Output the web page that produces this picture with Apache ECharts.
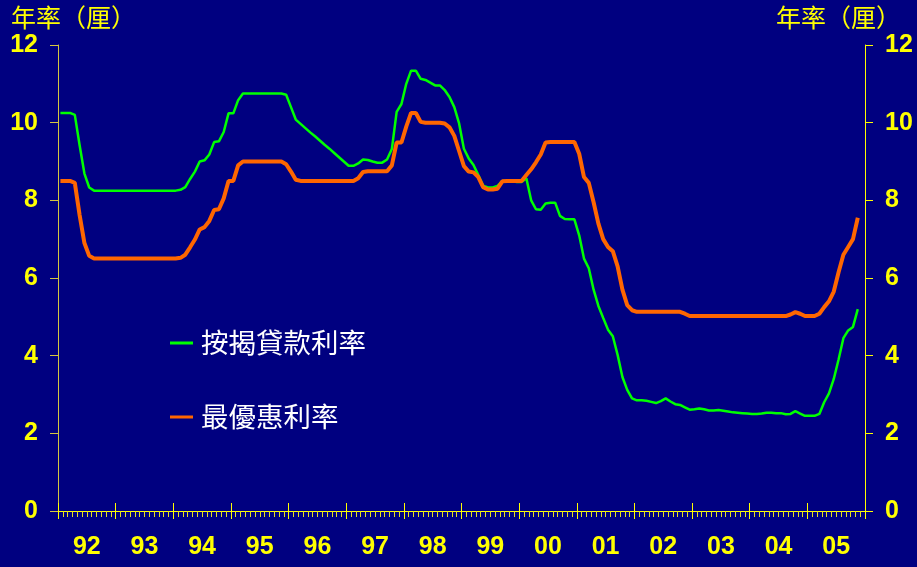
<!DOCTYPE html>
<html><head><meta charset="utf-8">
<script src="https://cdn.jsdelivr.net/npm/echarts@6/dist/echarts.min.js"></script>
<style>html,body{margin:0;padding:0;background:#000080;}#c{width:917px;height:567px;}</style>
</head><body><div id="c"></div>
<script>
// ---- data ----
const years = ['92','93','94','95','96','97','98','99','00','01','02','03','04','05'];
const axisTitle = '年率（厘）';
const seriesNames = ['按揭貸款利率', '最優惠利率'];
const yMin = 0, yMax = 12, yStep = 2;
// monthly, Jan 1992 - Nov 2005
const mortgageRate = [
  10.25, 10.25, 10.25, 10.2, 9.42, 8.69, 8.33, 8.25, 8.25, 8.25, 8.25, 8.25,
  8.25, 8.25, 8.25, 8.25, 8.25, 8.25, 8.25, 8.25, 8.25, 8.25, 8.25, 8.25,
  8.25, 8.27, 8.34, 8.55, 8.74, 9.0, 9.03, 9.18, 9.5, 9.52, 9.76, 10.24,
  10.24, 10.58, 10.75, 10.75, 10.75, 10.75, 10.75, 10.75, 10.75, 10.75, 10.75, 10.72,
  10.4, 10.08, 9.97, 9.86, 9.75, 9.65, 9.54, 9.43, 9.33, 9.22, 9.11, 9.0,
  8.89, 8.89, 8.95, 9.05, 9.04, 9.0, 8.97, 8.97, 9.05, 9.32, 10.28, 10.48,
  11.0, 11.34, 11.34, 11.13, 11.1, 11.03, 10.96, 10.96, 10.84, 10.66, 10.4, 9.98,
  9.33, 9.08, 8.91, 8.65, 8.38, 8.33, 8.33, 8.37, 8.5, 8.5, 8.5, 8.47,
  8.47, 8.57, 8.0, 7.77, 7.76, 7.92, 7.94, 7.94, 7.6, 7.52, 7.51, 7.51,
  7.1, 6.5, 6.25, 5.7, 5.28, 4.97, 4.67, 4.5, 4.02, 3.45, 3.12, 2.9,
  2.85, 2.85, 2.84, 2.81, 2.78, 2.83, 2.9, 2.82, 2.75, 2.73, 2.67, 2.61,
  2.62, 2.64, 2.62, 2.59, 2.59, 2.6, 2.58, 2.56, 2.54, 2.53, 2.52, 2.51,
  2.5, 2.5, 2.51, 2.53, 2.53, 2.52, 2.52, 2.49, 2.5, 2.57, 2.51, 2.45,
  2.45, 2.45, 2.5, 2.8, 3.03, 3.4, 3.9, 4.45, 4.65, 4.74, 5.2
];
const primeRate = [
  8.5, 8.5, 8.5, 8.45, 7.62, 6.9, 6.57, 6.5, 6.5, 6.5, 6.5, 6.5,
  6.5, 6.5, 6.5, 6.5, 6.5, 6.5, 6.5, 6.5, 6.5, 6.5, 6.5, 6.5,
  6.5, 6.52, 6.6, 6.79, 6.99, 7.25, 7.31, 7.47, 7.75, 7.77, 8.05, 8.5,
  8.5, 8.9, 9.0, 9.0, 9.0, 9.0, 9.0, 9.0, 9.0, 9.0, 9.0, 8.93,
  8.74, 8.53, 8.5, 8.5, 8.5, 8.5, 8.5, 8.5, 8.5, 8.5, 8.5, 8.5,
  8.5, 8.5, 8.57, 8.73, 8.75, 8.75, 8.75, 8.75, 8.75, 8.9, 9.49, 9.49,
  9.9, 10.25, 10.25, 10.02, 10.0, 10.0, 10.0, 10.0, 9.98, 9.88, 9.66, 9.27,
  8.88, 8.74, 8.72, 8.6, 8.34, 8.28, 8.28, 8.3, 8.49, 8.5, 8.5, 8.5,
  8.5, 8.65, 8.8, 8.98, 9.18, 9.49, 9.5, 9.5, 9.5, 9.5, 9.5, 9.5,
  9.2, 8.6, 8.45, 7.95, 7.4, 7.0, 6.8, 6.69, 6.3, 5.7, 5.3, 5.17,
  5.13, 5.13, 5.13, 5.13, 5.13, 5.13, 5.13, 5.13, 5.13, 5.13, 5.08, 5.02,
  5.02, 5.02, 5.02, 5.02, 5.02, 5.02, 5.02, 5.02, 5.02, 5.02, 5.02, 5.02,
  5.02, 5.02, 5.02, 5.02, 5.02, 5.02, 5.02, 5.02, 5.06, 5.12, 5.08, 5.02,
  5.02, 5.02, 5.08, 5.25, 5.4, 5.65, 6.15, 6.6, 6.8, 7.0, 7.55
];

// month categories built from the year list
const months = [];
years.forEach(y => { for (let m = 1; m <= 12; m++) months.push(y + '-' + m); });

const YEL = '#ffff00';
const numFont = { color: YEL, fontSize: 25, fontWeight: 'bold', fontFamily: 'Liberation Sans, Arial, sans-serif' };
const cjk = '"Noto Sans CJK TC", "Noto Sans CJK SC", sans-serif';

const chart = echarts.init(document.getElementById('c'), null, { renderer: 'canvas' });
chart.setOption({
  backgroundColor: '#000080',
  animation: false,
  grid: { left: 58, right: 52, top: 45, bottom: 56, containLabel: false },
  xAxis: [
    { type: 'category', data: months, boundaryGap: true, position: 'bottom',
      axisLine: { show: true, lineStyle: { color: YEL, width: 1 } },
      axisTick: { show: true, interval: 0, length: 6, lineStyle: { color: '#e6e020', width: 1 } },
      axisLabel: { show: false }, splitLine: { show: false } },
    { type: 'category', data: years, boundaryGap: true, position: 'bottom',
      axisLine: { show: false },
      axisTick: { show: true, interval: 0, length: 8, lineStyle: { color: YEL, width: 1 } },
      axisLabel: Object.assign({ show: true, interval: 0, margin: 24 }, numFont),
      splitLine: { show: false } },
    { type: 'category', data: years, boundaryGap: true, position: 'bottom',
      axisLine: { show: false },
      axisTick: { show: true, inside: true, interval: 0, length: 8, lineStyle: { color: YEL, width: 1 } },
      axisLabel: { show: false }, splitLine: { show: false } }
  ],
  yAxis: [
    { type: 'value', min: yMin, max: yMax, interval: yStep, position: 'left',
      axisLine: { show: true, lineStyle: { color: '#d4c640', width: 1 } },
      axisTick: { show: true, length: 8, lineStyle: { color: '#d4c640', width: 1 } },
      axisLabel: Object.assign({ margin: 20 }, numFont),
      splitLine: { show: false } },
    { type: 'value', min: yMin, max: yMax, interval: yStep, position: 'right',
      axisLine: { show: true, lineStyle: { color: YEL, width: 1 } },
      axisTick: { show: true, length: 8, lineStyle: { color: YEL, width: 1 } },
      axisLabel: Object.assign({ margin: 20 }, numFont),
      splitLine: { show: false } }
  ],
  legend: {
    orient: 'vertical', left: 170, top: 328, padding: 0,
    itemWidth: 23, itemHeight: 3, itemGap: 44, icon: 'rect',
    data: seriesNames,
    textStyle: { color: '#ffffff', fontSize: 27.5, fontFamily: cjk, lineHeight: 30, padding: [0, 0, 0, 3] }
  },
  graphic: [
    { type: 'text', left: 11, top: 5, style: { text: axisTitle, fill: YEL, fontSize: 25, fontFamily: cjk } },
    { type: 'text', left: 776, top: 5, style: { text: axisTitle, fill: YEL, fontSize: 25, fontFamily: cjk } }
  ],
  series: [
    { name: seriesNames[0], type: 'line', xAxisIndex: 0, yAxisIndex: 0, data: mortgageRate,
      symbol: 'none', lineStyle: { color: '#00ff00', width: 2.5 }, itemStyle: { color: '#00ff00' } },
    { name: seriesNames[1], type: 'line', xAxisIndex: 0, yAxisIndex: 0, data: primeRate,
      symbol: 'none', lineStyle: { color: '#ff6600', width: 4 }, itemStyle: { color: '#ff6600' } }
  ]
});
</script>
</body></html>
